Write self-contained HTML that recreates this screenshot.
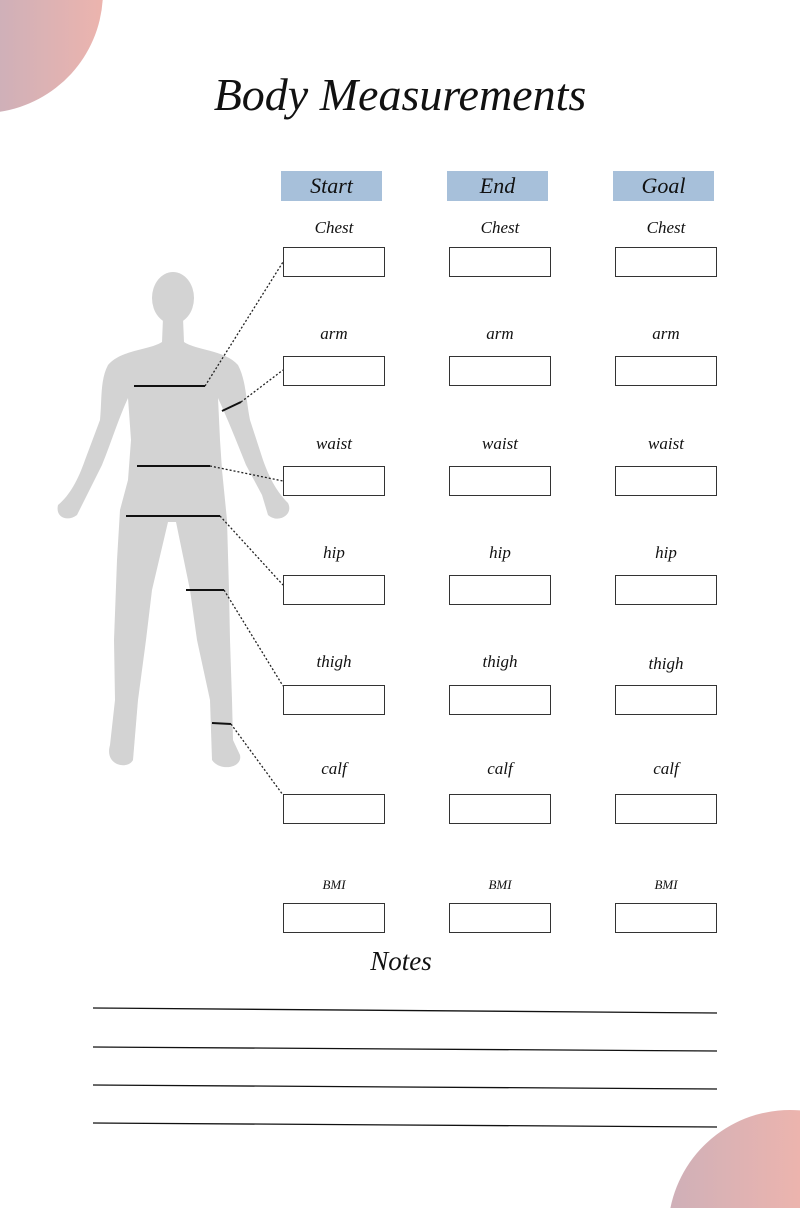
<!DOCTYPE html>
<html><head><meta charset="utf-8"><style>
html,body{margin:0;padding:0;background:#fff;overflow:hidden;width:800px;height:1208px}
.p{position:relative;width:800px;height:1208px;overflow:hidden;font-family:"Liberation Serif",serif;font-style:italic}
.t{position:absolute;left:0;width:800px;text-align:center;top:68px;font-size:46px;color:#111}
.h{position:absolute;width:101px;height:30px;background:#a7c0da;text-align:center;line-height:30px;font-size:22px;color:#111}
.l{position:absolute;width:102px;text-align:center;font-size:17px;color:#111}
.b{position:absolute;width:100px;height:28px;border:1.5px solid #333;background:#fff}
svg{display:block}
</style></head><body><div class="p">
<svg width="800" height="1208" style="position:absolute;left:0;top:0">
<defs><linearGradient id="g" x1="0" x2="1"><stop offset="0" stop-color="#cfb0b8"/><stop offset="1" stop-color="#ecb4ae"/></linearGradient></defs>
<path d="M0,0 L102.7,0 A121,121 0 0 1 0,111.7 Z" fill="url(#g)"/>
<path d="M800,1208 L670.4,1208 A122,122 0 0 1 800,1110.4 Z" fill="url(#g)"/>
<g fill="#d3d3d3">
<ellipse cx="173" cy="298" rx="21" ry="26"/>
<path d="M163,318 L162,342 C150,350 120,350 108,365 C100,380 102,400 100,420 L85,460 C78,480 70,495 58,505 C55,518 68,522 77,515 L87,495 L102,465 C112,440 118,420 128,398 L131,440 L128,480 L120,510 L117,560 L114,640 L115,700 L110,745 C104,766 128,770 133,760 L138,700 L146,640 L152,590 L168,522 L176,522 L190,590 L197,640 L210,700 L212,760 C220,772 243,768 240,755 L233,740 L232,700 L230,640 L229,590 L227,520 L222,470 L220,440 L218,398 C228,420 236,440 246,465 L262,495 L268,515 C278,524 294,515 288,503 C278,493 270,480 263,460 L250,420 C246,400 246,380 238,365 C225,350 195,350 184,342 L183,318 Z"/>
</g>
<g stroke="#111" stroke-width="2">
<line x1="134" y1="386" x2="205" y2="386"/><line x1="222" y1="411" x2="241" y2="402"/>
<line x1="137" y1="466" x2="210" y2="466"/><line x1="126" y1="516" x2="220" y2="516"/>
<line x1="186" y1="590" x2="224" y2="590"/><line x1="212" y1="723" x2="231" y2="724"/>
</g>
<g stroke="#222" stroke-width="1.3" stroke-dasharray="2,2" fill="none">
<line x1="205" y1="386" x2="283" y2="262"/><line x1="241" y1="402" x2="283" y2="370"/>
<line x1="210" y1="466" x2="283" y2="481"/><line x1="220" y1="516" x2="283" y2="585"/>
<line x1="224" y1="590" x2="283" y2="686"/><line x1="231" y1="724" x2="283" y2="795"/>
</g>
<g stroke="#111" stroke-width="1.3">
<line x1="93" y1="1008" x2="717" y2="1013"/><line x1="93" y1="1047" x2="717" y2="1051"/>
<line x1="93" y1="1085" x2="717" y2="1089"/><line x1="93" y1="1123" x2="717" y2="1127"/>
</g>
</svg>
<div class="t">Body Measurements</div>
<div class="h" style="left:281px;top:171px">Start</div>
<div class="h" style="left:447px;top:171px">End</div>
<div class="h" style="left:613px;top:171px">Goal</div>
<div class="l" style="left:283px;top:218px">Chest</div><div class="l" style="left:449px;top:218px">Chest</div><div class="l" style="left:615px;top:218px">Chest</div>
<div class="l" style="left:283px;top:324px">arm</div><div class="l" style="left:449px;top:324px">arm</div><div class="l" style="left:615px;top:324px">arm</div>
<div class="l" style="left:283px;top:434px">waist</div><div class="l" style="left:449px;top:434px">waist</div><div class="l" style="left:615px;top:434px">waist</div>
<div class="l" style="left:283px;top:543px">hip</div><div class="l" style="left:449px;top:543px">hip</div><div class="l" style="left:615px;top:543px">hip</div>
<div class="l" style="left:283px;top:652px">thigh</div><div class="l" style="left:449px;top:652px">thigh</div><div class="l" style="left:615px;top:654px">thigh</div>
<div class="l" style="left:283px;top:759px">calf</div><div class="l" style="left:449px;top:759px">calf</div><div class="l" style="left:615px;top:759px">calf</div>
<div class="l" style="left:283px;top:877px;font-size:13px">BMI</div><div class="l" style="left:449px;top:877px;font-size:13px">BMI</div><div class="l" style="left:615px;top:877px;font-size:13px">BMI</div>
<div class="b" style="left:283px;top:247px"></div><div class="b" style="left:449px;top:247px"></div><div class="b" style="left:615px;top:247px"></div>
<div class="b" style="left:283px;top:356px"></div><div class="b" style="left:449px;top:356px"></div><div class="b" style="left:615px;top:356px"></div>
<div class="b" style="left:283px;top:466px"></div><div class="b" style="left:449px;top:466px"></div><div class="b" style="left:615px;top:466px"></div>
<div class="b" style="left:283px;top:575px"></div><div class="b" style="left:449px;top:575px"></div><div class="b" style="left:615px;top:575px"></div>
<div class="b" style="left:283px;top:685px"></div><div class="b" style="left:449px;top:685px"></div><div class="b" style="left:615px;top:685px"></div>
<div class="b" style="left:283px;top:794px"></div><div class="b" style="left:449px;top:794px"></div><div class="b" style="left:615px;top:794px"></div>
<div class="b" style="left:283px;top:903px"></div><div class="b" style="left:449px;top:903px"></div><div class="b" style="left:615px;top:903px"></div>
<div class="l" style="left:350px;top:946px;font-size:27px">Notes</div>
</div></body></html>
